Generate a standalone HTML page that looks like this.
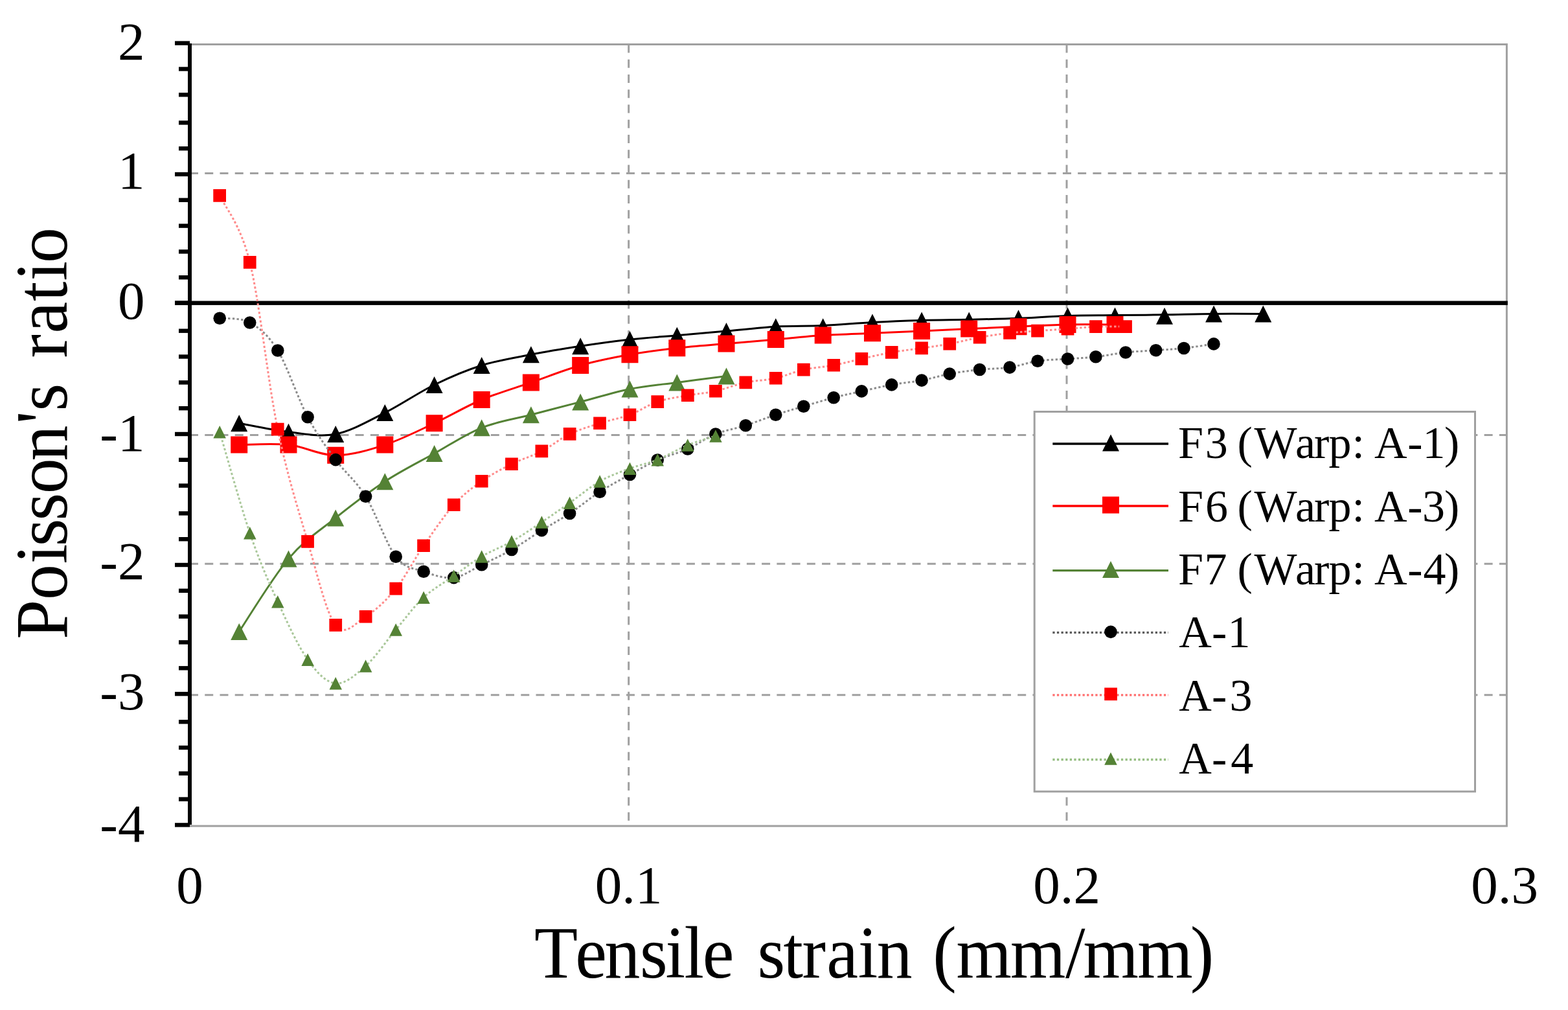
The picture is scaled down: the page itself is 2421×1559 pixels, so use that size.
<!DOCTYPE html>
<html><head><meta charset="utf-8"><title>Poisson's ratio vs tensile strain</title>
<style>
html,body{margin:0;padding:0;background:#fff;}
svg{display:block;}
text{font-family:"Liberation Serif","Times New Roman",serif;fill:#000;font-kerning:none;}
</style></head><body>
<svg width="2421" height="1559" viewBox="0 0 2421 1559">
<rect width="2421" height="1559" fill="#fff"/>
<g stroke="#a0a0a0" stroke-width="3" fill="none" stroke-dasharray="13 10.24">
<path d="M293 267.5H2326.4"/><path d="M293 671.6H2326.4"/><path d="M293 870.3H2326.4"/><path d="M293 1072.8H2326.4"/><path d="M970.7 68.5V1275"/><path d="M1647 68.5V1275"/></g>
<path d="M293 68.5H2326.4V1275H293" stroke="#a0a0a0" stroke-width="3" fill="none"/>
<g fill="#000"><rect x="290" y="67" width="6" height="1206"/><rect x="270" y="63.4" width="23" height="6.4"/><rect x="270" y="265.8" width="23" height="6.4"/><rect x="270" y="464.4" width="23" height="6.4"/><rect x="270" y="666.8" width="23" height="6.4"/><rect x="270" y="868.8" width="23" height="6.4"/><rect x="270" y="1067.9" width="23" height="6.4"/><rect x="270" y="1270.2" width="23" height="6.4"/><rect x="276" y="103.3" width="17" height="6.4"/><rect x="276" y="143.1" width="17" height="6.4"/><rect x="276" y="186.2" width="17" height="6.4"/><rect x="276" y="226" width="17" height="6.4"/><rect x="276" y="305.6" width="17" height="6.4"/><rect x="276" y="345.4" width="17" height="6.4"/><rect x="276" y="385.2" width="17" height="6.4"/><rect x="276" y="425" width="17" height="6.4"/><rect x="276" y="507.5" width="17" height="6.4"/><rect x="276" y="547.3" width="17" height="6.4"/><rect x="276" y="587.2" width="17" height="6.4"/><rect x="276" y="627" width="17" height="6.4"/><rect x="276" y="706.6" width="17" height="6.4"/><rect x="276" y="746.4" width="17" height="6.4"/><rect x="276" y="789.2" width="17" height="6.4"/><rect x="276" y="829" width="17" height="6.4"/><rect x="276" y="908.6" width="17" height="6.4"/><rect x="276" y="948.4" width="17" height="6.4"/><rect x="276" y="988.2" width="17" height="6.4"/><rect x="276" y="1028.1" width="17" height="6.4"/><rect x="276" y="1111" width="17" height="6.4"/><rect x="276" y="1150.8" width="17" height="6.4"/><rect x="276" y="1190.6" width="17" height="6.4"/><rect x="276" y="1230.4" width="17" height="6.4"/><rect x="270" y="464.5" width="2057.9" height="6.4"/></g>
<path d="M369.2 653.3C381.9 655.5 420.7 663.9 445.5 666.7C470.3 669.5 493.4 674.9 518.2 670C543 665.1 568.9 649.8 594.3 637.1C619.7 624.4 645.7 606.2 670.6 594C695.5 581.8 718.8 571.8 743.7 564C768.6 556.2 794.5 552.2 819.9 547.3C845.3 542.3 870.8 538.2 896.2 534.3C921.6 530.4 947.6 526.8 972.5 524C997.4 521.2 1020.5 519.9 1045.3 517.7C1070.1 515.5 1096.1 513.2 1121.5 511C1146.9 508.8 1172.9 505.6 1197.8 504.2C1222.7 502.8 1245.8 503.7 1270.7 502.6C1295.6 501.5 1321.6 498.9 1347 497.5C1372.4 496.1 1398.2 495.1 1423.1 494.4C1448 493.7 1471.3 493.7 1496.2 493.2C1521.1 492.7 1547.1 492.3 1572.5 491.3C1597.9 490.3 1623.7 488.2 1648.5 487.4C1673.3 486.6 1696.6 486.9 1721.5 486.6C1746.4 486.3 1772.6 486.2 1798 485.8C1823.4 485.4 1848.7 484.6 1874.1 484.4C1899.5 484.2 1937.6 484.4 1950.3 484.4" stroke="#000" stroke-width="3" fill="none" stroke-linejoin="round"/>
<path fill="#000" d="M369.2 640.3L382.2 666.3L356.2 666.3ZM445.5 653.7L458.5 679.7L432.5 679.7ZM518.2 657L531.2 683L505.2 683ZM594.3 624.1L607.3 650.1L581.3 650.1ZM670.6 581L683.6 607L657.6 607ZM743.7 551L756.7 577L730.7 577ZM819.9 534.3L832.9 560.3L806.9 560.3ZM896.2 521.3L909.2 547.3L883.2 547.3ZM972.5 511L985.5 537L959.5 537ZM1045.3 504.7L1058.3 530.7L1032.3 530.7ZM1121.5 498L1134.5 524L1108.5 524ZM1197.8 491.2L1210.8 517.2L1184.8 517.2ZM1270.7 491.2L1283.7 517.2L1257.7 517.2ZM1347 484.5L1360 510.5L1334 510.5ZM1423.1 481.4L1436.1 507.4L1410.1 507.4ZM1496.2 481.4L1509.2 507.4L1483.2 507.4ZM1572.5 478.3L1585.5 504.3L1559.5 504.3ZM1648.5 474.4L1661.5 500.4L1635.5 500.4ZM1721.5 474.4L1734.5 500.4L1708.5 500.4ZM1798 474.8L1811 500.8L1785 500.8ZM1874.1 471.4L1887.1 497.4L1861.1 497.4ZM1950.3 471.4L1963.3 497.4L1937.3 497.4Z"/>
<path d="M369.2 686.6C381.9 686.6 420.7 683.9 445.5 686.6C470.3 689.3 493.4 702.8 518.2 702.8C543 702.8 568.9 694.9 594.3 686.6C619.7 678.4 645.7 664.9 670.6 653.3C695.5 641.7 718.8 627.5 743.7 617C768.6 606.5 794.5 599.2 819.9 590.4C845.3 581.6 870.8 571.2 896.2 564C921.6 556.8 947.6 551.8 972.5 547.3C997.4 542.8 1020.5 540.1 1045.3 537.3C1070.1 534.5 1096.1 532.8 1121.5 530.6C1146.9 528.4 1172.9 526.2 1197.8 524C1222.7 521.8 1245.8 519.2 1270.7 517.6C1295.6 516 1321.6 515.3 1347 514.2C1372.4 513.1 1398.2 512 1423.1 510.9C1448 509.8 1471.3 508.6 1496.2 507.5C1521.1 506.4 1547.1 505.3 1572.5 504.2C1597.9 503.1 1623.7 501.5 1648.5 501C1673.3 500.5 1709.3 501 1721.5 501" stroke="#ff0000" stroke-width="3" fill="none" stroke-linejoin="round"/>
<path fill="#ff0000" d="M356.2 673.6h26v26h-26ZM432.5 673.6h26v26h-26ZM505.2 689.8h26v26h-26ZM581.3 673.6h26v26h-26ZM657.6 640.3h26v26h-26ZM730.7 604h26v26h-26ZM806.9 577.4h26v26h-26ZM883.2 551h26v26h-26ZM959.5 534.3h26v26h-26ZM1032.3 524.3h26v26h-26ZM1108.5 517.6h26v26h-26ZM1184.8 511h26v26h-26ZM1257.7 504.6h26v26h-26ZM1334 501.2h26v26h-26ZM1410.1 497.9h26v26h-26ZM1483.2 494.5h26v26h-26ZM1559.5 491.2h26v26h-26ZM1635.5 488h26v26h-26ZM1708.5 488h26v26h-26Z"/>
<path d="M369.2 975C381.9 956.2 420.7 891.7 445.5 862.4C470.3 833.1 493.4 819.3 518.2 799.4C543 779.5 568.9 759.8 594.3 743.2C619.7 726.6 645.7 713.8 670.6 700C695.5 686.2 718.8 670.2 743.7 660.3C768.6 650.3 794.5 646.9 819.9 640.3C845.3 633.6 870.8 627 896.2 620.4C921.6 613.8 947.6 605.5 972.5 600.5C997.4 595.5 1020.5 593.7 1045.3 590.4C1070.1 587.1 1108.8 582.2 1121.5 580.6" stroke="#548235" stroke-width="3" fill="none" stroke-linejoin="round"/>
<path fill="#548235" d="M369.2 962L382.2 988L356.2 988ZM445.5 849.4L458.5 875.4L432.5 875.4ZM518.2 786.4L531.2 812.4L505.2 812.4ZM594.3 730.2L607.3 756.2L581.3 756.2ZM670.6 687L683.6 713L657.6 713ZM743.7 647.3L756.7 673.3L730.7 673.3ZM819.9 627.3L832.9 653.3L806.9 653.3ZM896.2 607.4L909.2 633.4L883.2 633.4ZM972.5 587.5L985.5 613.5L959.5 613.5ZM1045.3 577.4L1058.3 603.4L1032.3 603.4ZM1121.5 567.6L1134.5 593.6L1108.5 593.6Z"/>
<path d="M339.2 491.2C347 492.3 370.9 489.7 385.8 498C400.7 506.3 413.9 516.7 428.8 541C443.7 565.3 460.2 615.6 475.1 643.7C490 671.8 503.3 689.2 518.2 709.6C533.1 730 549.1 741.4 564.6 766.3C580.1 791.2 596.3 839.9 611.2 859.2C626.1 878.5 639.2 876.8 654.1 882.2C669 887.6 685.8 893.3 700.7 891.6C715.6 889.9 728.8 879 743.7 871.8C758.6 864.6 774.5 857.4 790 848.5C805.5 839.6 821.5 827.9 836.4 818.6C851.3 809.3 864.6 802.4 879.6 792.5C894.6 782.6 910.6 769.2 926.1 759.2C941.6 749.2 957.6 740.7 972.5 732.5C987.4 724.3 1000.3 716.6 1015.2 710C1030.1 703.4 1046.8 699.7 1061.8 693C1076.8 686.3 1090 676 1104.9 670C1119.8 664 1135.8 661.7 1151.3 656.7C1166.8 651.7 1182.8 645.1 1197.7 640.2C1212.6 635.3 1225.9 631.6 1240.8 627.2C1255.7 622.8 1272.3 617.7 1287.2 613.8C1302.1 609.9 1315.4 607.2 1330.3 603.9C1345.2 600.6 1361.2 596.7 1376.7 593.9C1392.2 591.1 1408.2 589.9 1423.1 587.1C1438 584.3 1451.3 579.9 1466.2 577.1C1481.1 574.3 1497.1 572.2 1512.6 570.5C1528.1 568.8 1544.1 569.3 1559 567.1C1573.9 564.9 1587.2 559.5 1602.1 557.3C1617 555.1 1633.5 555.1 1648.5 554C1663.5 552.9 1677 552.5 1691.9 550.8C1706.8 549.1 1722.5 545.7 1738 544C1753.5 542.3 1769.7 541.8 1784.7 540.7C1799.7 539.6 1813 539.1 1827.9 537.5C1842.8 535.9 1866.3 532 1874 530.9" stroke="#8a8a8a" stroke-width="3" fill="none" stroke-linejoin="round" stroke-dasharray="3.3 3.3"/>
<g fill="#000"><circle cx="339.2" cy="491.2" r="9.8"/><circle cx="385.8" cy="498" r="9.8"/><circle cx="428.8" cy="541" r="9.8"/><circle cx="475.1" cy="643.7" r="9.8"/><circle cx="518.2" cy="709.6" r="9.8"/><circle cx="564.6" cy="766.3" r="9.8"/><circle cx="611.2" cy="859.2" r="9.8"/><circle cx="654.1" cy="882.2" r="9.8"/><circle cx="700.7" cy="891.6" r="9.8"/><circle cx="743.7" cy="871.8" r="9.8"/><circle cx="790" cy="848.5" r="9.8"/><circle cx="836.4" cy="818.6" r="9.8"/><circle cx="879.6" cy="792.5" r="9.8"/><circle cx="926.1" cy="759.2" r="9.8"/><circle cx="972.5" cy="732.5" r="9.8"/><circle cx="1015.2" cy="710" r="9.8"/><circle cx="1061.8" cy="693" r="9.8"/><circle cx="1104.9" cy="670" r="9.8"/><circle cx="1151.3" cy="656.7" r="9.8"/><circle cx="1197.7" cy="640.2" r="9.8"/><circle cx="1240.8" cy="627.2" r="9.8"/><circle cx="1287.2" cy="613.8" r="9.8"/><circle cx="1330.3" cy="603.9" r="9.8"/><circle cx="1376.7" cy="593.9" r="9.8"/><circle cx="1423.1" cy="587.1" r="9.8"/><circle cx="1466.2" cy="577.1" r="9.8"/><circle cx="1512.6" cy="570.5" r="9.8"/><circle cx="1559" cy="567.1" r="9.8"/><circle cx="1602.1" cy="557.3" r="9.8"/><circle cx="1648.5" cy="554" r="9.8"/><circle cx="1691.9" cy="550.8" r="9.8"/><circle cx="1738" cy="544" r="9.8"/><circle cx="1784.7" cy="540.7" r="9.8"/><circle cx="1827.9" cy="537.5" r="9.8"/><circle cx="1874" cy="530.9" r="9.8"/></g>
<path d="M339.2 302C347 319.2 370.9 344.9 385.8 405C400.7 465.1 413.9 590.8 428.8 662.6C443.7 734.4 460.2 785.6 475.1 836C490 886.4 503.3 945.6 518.2 964.9C533.1 984.2 549.1 961.1 564.6 951.7C580.1 942.3 596.3 926.8 611.2 908.6C626.1 890.4 639.2 863.8 654.1 842.3C669 820.8 685.8 795.9 700.7 779.3C715.6 762.7 728.8 753.3 743.7 742.8C758.6 732.3 774.5 724 790 716.3C805.5 708.6 821.5 704.2 836.4 696.5C851.3 688.8 864.6 677.2 879.6 670C894.6 662.8 910.6 658.3 926.1 653.3C941.6 648.3 957.6 645.7 972.5 640.2C987.4 634.7 1000.3 625.1 1015.2 620.1C1030.1 615.1 1046.8 613 1061.8 610.3C1076.8 607.6 1090 607 1104.9 603.7C1119.8 600.4 1135.8 593.7 1151.3 590.4C1166.8 587.1 1182.8 587.1 1197.7 583.8C1212.6 580.5 1225.9 573.9 1240.8 570.6C1255.7 567.3 1272.3 566.6 1287.2 563.8C1302.1 561 1315.4 557.2 1330.3 553.9C1345.2 550.6 1361.2 546.6 1376.7 543.9C1392.2 541.1 1408.2 539.6 1423.1 537.4C1438 535.2 1451.3 533.6 1466.2 530.8C1481.1 528 1497.1 523.5 1512.6 520.7C1528.1 517.9 1544.1 515.7 1559 514C1573.9 512.3 1587.2 511.8 1602.1 510.7C1617 509.6 1633.5 508.8 1648.5 507.7C1663.5 506.6 1677 504.8 1691.9 504.2C1706.8 503.6 1730.3 504.2 1738 504.2" stroke="#ff8a8a" stroke-width="3" fill="none" stroke-linejoin="round" stroke-dasharray="3.3 3.3"/>
<path fill="#ff0000" d="M329.3 292.1h19.7v19.7h-19.7ZM375.9 395.1h19.7v19.7h-19.7ZM418.9 652.8h19.7v19.7h-19.7ZM465.2 826.1h19.7v19.7h-19.7ZM508.4 955h19.7v19.7h-19.7ZM554.8 941.9h19.7v19.7h-19.7ZM601.4 898.8h19.7v19.7h-19.7ZM644.2 832.4h19.7v19.7h-19.7ZM690.9 769.4h19.7v19.7h-19.7ZM733.9 732.9h19.7v19.7h-19.7ZM780.1 706.4h19.7v19.7h-19.7ZM826.5 686.6h19.7v19.7h-19.7ZM869.8 660.1h19.7v19.7h-19.7ZM916.2 643.4h19.7v19.7h-19.7ZM962.6 630.4h19.7v19.7h-19.7ZM1005.4 610.2h19.7v19.7h-19.7ZM1052 600.4h19.7v19.7h-19.7ZM1095.1 593.9h19.7v19.7h-19.7ZM1141.5 580.5h19.7v19.7h-19.7ZM1187.9 573.9h19.7v19.7h-19.7ZM1231 560.8h19.7v19.7h-19.7ZM1277.4 553.9h19.7v19.7h-19.7ZM1320.5 544h19.7v19.7h-19.7ZM1366.9 534h19.7v19.7h-19.7ZM1413.2 527.5h19.7v19.7h-19.7ZM1456.4 520.9h19.7v19.7h-19.7ZM1502.8 510.9h19.7v19.7h-19.7ZM1549.2 504.1h19.7v19.7h-19.7ZM1592.2 500.8h19.7v19.7h-19.7ZM1638.7 497.8h19.7v19.7h-19.7ZM1682.1 494.3h19.7v19.7h-19.7ZM1728.2 494.3h19.7v19.7h-19.7Z"/>
<path d="M339.2 666.7C347 692.7 370.9 779 385.8 822.7C400.7 866.4 413.9 896.1 428.8 928.7C443.7 961.3 460.2 997.2 475.1 1018.2C490 1039.2 503.3 1053.1 518.2 1054.7C533.1 1056.3 549.1 1041.8 564.6 1028C580.1 1014.2 596.3 989.6 611.2 972C626.1 954.4 639.2 936 654.1 922.2C669 908.4 685.8 899.5 700.7 889C715.6 878.5 728.8 867.9 743.7 859C758.6 850.1 774.5 844.6 790 835.8C805.5 827 821.5 815.9 836.4 806C851.3 796.1 864.6 786.7 879.6 776.2C894.6 765.7 910.6 751.9 926.1 743C941.6 734.1 957.6 728.6 972.5 723.1C987.4 717.6 1000.3 715.7 1015.2 709.7C1030.1 703.7 1046.8 693.1 1061.8 687C1076.8 680.9 1097.7 675.3 1104.9 673" stroke="#a9c799" stroke-width="3" fill="none" stroke-linejoin="round" stroke-dasharray="3.3 3.3"/>
<path fill="#548235" d="M339.2 657L348.9 676.5L329.4 676.5ZM385.8 813L395.6 832.5L376.1 832.5ZM428.8 919L438.6 938.5L419.1 938.5ZM475.1 1008.5L484.9 1028L465.4 1028ZM518.2 1045L528 1064.5L508.5 1064.5ZM564.6 1018.2L574.4 1037.8L554.9 1037.8ZM611.2 962.2L621 981.8L601.5 981.8ZM654.1 912.5L663.9 932L644.4 932ZM700.7 879.2L710.5 898.8L691 898.8ZM743.7 849.2L753.5 868.8L734 868.8ZM790 826L799.8 845.5L780.2 845.5ZM836.4 796.2L846.1 815.8L826.6 815.8ZM879.6 766.5L889.4 786L869.9 786ZM926.1 733.2L935.9 752.8L916.4 752.8ZM972.5 713.4L982.2 732.9L962.8 732.9ZM1015.2 700L1025 719.5L1005.5 719.5ZM1061.8 677.2L1071.5 696.8L1052 696.8ZM1104.9 663.2L1114.7 682.8L1095.2 682.8Z"/>
<g font-size="83" text-anchor="end"><text x="223.5" y="91.6">2</text><text x="223.5" y="290.7">1</text><text x="223.5" y="492.4">0</text><text x="223.5" y="695.5">-1</text><text x="223.5" y="893.9">-2</text><text x="223.5" y="1095.4">-3</text><text x="223.5" y="1298.8">-4</text></g>
<g font-size="83" text-anchor="middle"><text x="293" y="1393.7">0</text><text x="970.7" y="1393.7">0.1</text><text x="1647" y="1393.7">0.2</text><text x="2323" y="1393.7">0.3</text></g>
<text transform="matrix(0.9550 0 0 1 0 0)" x="863.8 930 977.4 1034.6 1075.8 1106.3 1135.8 1186.9 1224.7 1266.6 1296.9 1336.5 1387.2 1417.6 1475.1 1508 1546 1633.5 1722.5 1751.3 1838.9 1924.3" y="1508.6" font-size="115">Tensile strain (mm/mm)</text>
<text transform="translate(102.5 983.6) rotate(-90) scale(0.9550 1)" x="-3.3 60.4 118.7 147 188.6 231.9 284.9 344.8 365.6 410.4 451.3 491.2 543.1 576 604.7" y="0" font-size="115">Poisson&#39;s ratio</text>
<rect x="1597.2" y="635.5" width="680.3" height="586.3" fill="#fff" stroke="#a0a0a0" stroke-width="3"/>
<path d="M1625.3 685H1804" stroke="#000" stroke-width="3.3"/><path fill="#000" d="M1715 670.5L1728 696.5L1702 696.5Z"/><text x="1819 1860.7 1895.7 1910.4 1936.4 2000 2028.9 2051.4 2087.5 2106.9 2121.9 2173.2 2196.4 2230.1" y="706.5" font-size="70">F3 (Warp: A-1)</text>
<path d="M1625.3 781H1804" stroke="#ff0000" stroke-width="3.3"/><path fill="#ff0000" d="M1702 766.5h26v26h-26Z"/><text x="1819 1861 1896 1910.4 1936.4 2000 2028.9 2051.4 2087.5 2106.9 2121.9 2173.2 2196.1 2230.1" y="804.5" font-size="70">F6 (Warp: A-3)</text>
<path d="M1625.3 880.6H1804" stroke="#548235" stroke-width="3.3"/><path fill="#548235" d="M1715 866.1L1728 892.1L1702 892.1Z"/><text x="1819 1859.4 1894.4 1910.4 1936.4 2000 2028.9 2051.4 2087.5 2106.9 2121.9 2173.2 2197.5 2230.1" y="902" font-size="70">F7 (Warp: A-4)</text>
<path d="M1625.3 976.4H1804" stroke="#5a5a5a" stroke-width="3.3" stroke-dasharray="3.3 3.3"/><g fill="#000"><circle cx="1715" cy="975.4" r="9.8"/></g><text x="1820.2 1870.9 1895.5" y="998.5" font-size="70">A-1</text>
<path d="M1625.3 1072.8H1804" stroke="#ff6e6e" stroke-width="3.3" stroke-dasharray="3.3 3.3"/><path fill="#ff0000" d="M1705.2 1061.5h19.7v19.7h-19.7Z"/><text x="1820.2 1870.9 1898.4" y="1096.5" font-size="70">A-3</text>
<path d="M1625.3 1172.5H1804" stroke="#96be82" stroke-width="3.3" stroke-dasharray="3.3 3.3"/><path fill="#548235" d="M1715 1161.2L1724.8 1180.8L1705.2 1180.8Z"/><text x="1820.2 1870.9 1900.3" y="1194" font-size="70">A-4</text>
</svg>
</body></html>
